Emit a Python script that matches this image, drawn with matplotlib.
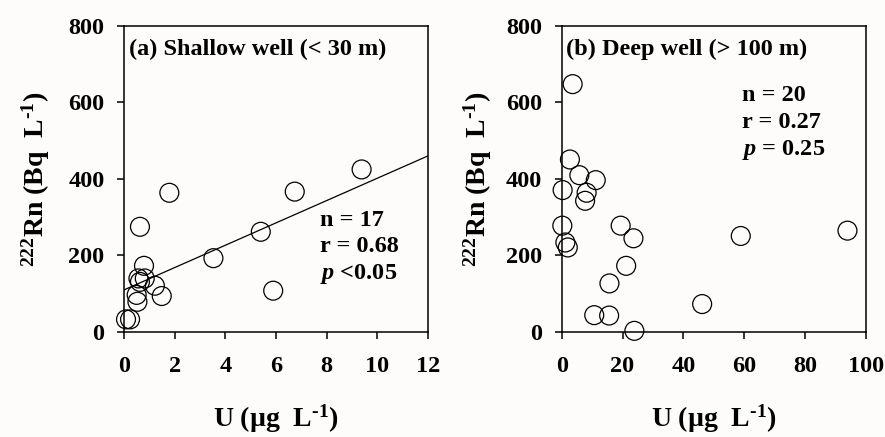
import matplotlib
matplotlib.use("Agg")
import numpy as np
import matplotlib.pyplot as plt

# Shallow well (< 30 m): U (ug/L) vs 222Rn (Bq/L)
shallow_u = [0.08, 0.24, 0.63, 1.79, 0.79, 0.57, 0.63, 0.82, 0.50, 0.53,
             1.22, 1.49, 3.53, 5.40, 5.89, 6.74, 9.38]
shallow_rn = [33, 33, 275, 364, 173, 140, 131, 140, 97, 79,
              121, 94, 193, 262, 108, 367, 425]
# regression line
fit_intercept = 110
fit_slope = 29.2

# Deep well (> 100 m)
deep_u = [3.6, 2.7, 5.8, 11.2, 0.3, 8.2, 7.7, 0.2, 19.4, 23.6,
          1.2, 2.0, 21.2, 15.7, 10.7, 15.6, 23.9, 46.2, 58.9, 94.0]
deep_rn = [648, 451, 410, 397, 371, 364, 343, 278, 278, 245,
           234, 221, 173, 127, 44, 43, 3, 73, 251, 265]

stats_a = ['n = 17', 'r = 0.68', '$\\mathit{p}$ <0.05']
stats_b = ['n = 20', 'r = 0.27', '$\\mathit{p}$ = 0.25']

plt.rcParams['font.family'] = ['Liberation Serif', 'DejaVu Serif']
plt.rcParams['font.weight'] = 'bold'
plt.rcParams['mathtext.fontset'] = 'custom'
plt.rcParams['mathtext.rm'] = 'Liberation Serif:bold'
plt.rcParams['mathtext.it'] = 'Liberation Serif:bold:italic'
plt.rcParams['mathtext.default'] = 'rm'

bg = '#fdfcfb'
fig = plt.figure(figsize=(8.85, 4.37), dpi=100, facecolor=bg)
ax1 = fig.add_axes([0.1401, 0.2403, 0.3435, 0.7002])
ax2 = fig.add_axes([0.6347, 0.2403, 0.3435, 0.7002])


def style_axis(ax, xmax, xstep, ylab_x):
    ax.set_facecolor(bg)
    ax.set_xlim(0, xmax)
    ax.set_ylim(0, 800)
    ax.set_xticks(np.arange(0, xmax + 1, xstep))
    ax.set_yticks(np.arange(0, 801, 200))
    ax.tick_params(direction='out', length=5, width=1.1, labelsize=17.5)
    ax.tick_params(axis='x', pad=12.5)
    ax.tick_params(axis='y', pad=9)
    for s in ax.spines.values():
        s.set_linewidth(1.1)
    for lab in ax.get_xticklabels() + ax.get_yticklabels():
        lab.set_fontweight('bold')
    ax.set_xlabel('U (\u00b5g  L$^{\u20101}$)', fontsize=20, fontweight='bold')
    ax.set_ylabel('$^{222}$Rn (Bq  L$^{\u20101}$)', fontsize=20, fontweight='bold')
    ax.xaxis.label.set_va('baseline')
    ax.yaxis.label.set_va('baseline')
    ax.xaxis.set_label_coords(0.5, -0.309)
    ax.yaxis.set_label_coords(ylab_x, 0.5)


def stats(ax, lines, x, ys):
    for t, y in zip(lines, ys):
        ax.text(x, y, t, transform=ax.transAxes, fontsize=17.5,
                fontweight='bold', va='baseline', ha='left')


style_axis(ax1, 12, 2, -0.265)
ax1.scatter(shallow_u, shallow_rn, s=185, facecolors='none', edgecolors='black',
            linewidths=0.9, zorder=3, clip_on=False)
xs = np.array([0, 12])
ax1.plot(xs, fit_intercept + fit_slope * xs, color='black', lw=0.9)
ax1.text(0.017, 0.905, '(a) Shallow well (< 30 m)', transform=ax1.transAxes,
         fontsize=17.5, fontweight='bold', va='baseline', ha='left')
stats(ax1, stats_a, 0.645, [0.347, 0.262, 0.173])

style_axis(ax2, 100, 20, -0.252)
ax2.scatter(deep_u, deep_rn, s=185, facecolors='none', edgecolors='black',
            linewidths=0.9, zorder=3, clip_on=False)
ax2.text(0.014, 0.905, '(b) Deep well (> 100 m)', transform=ax2.transAxes,
         fontsize=17.5, fontweight='bold', va='baseline', ha='left')
stats(ax2, stats_b, 0.594, [0.756, 0.667, 0.58])

fig.savefig('out.png', dpi=100, facecolor=bg)
